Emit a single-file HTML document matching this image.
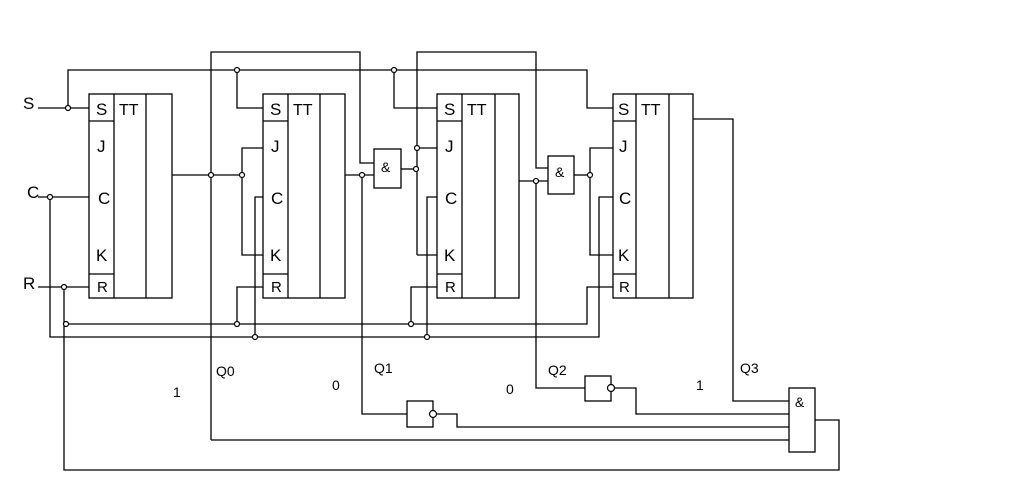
<!DOCTYPE html>
<html><head><style>
html,body{margin:0;padding:0;background:#fff;}
svg{display:block;}
text{font-family:"Liberation Sans",sans-serif;fill:#000;}
</style></head><body>
<svg width="1015" height="493" viewBox="0 0 1015 493" xmlns="http://www.w3.org/2000/svg">
<g stroke="#000" stroke-width="1.3" fill="none">
<!-- FF boxes -->
<rect x="89" y="94" width="83" height="204"/>
<line x1="114" y1="94" x2="114" y2="298"/><line x1="146" y1="94" x2="146" y2="298"/>
<line x1="89" y1="121" x2="114" y2="121"/><line x1="89" y1="274" x2="114" y2="274"/>
<rect x="263" y="94" width="82" height="204"/>
<line x1="288" y1="94" x2="288" y2="298"/><line x1="320" y1="94" x2="320" y2="298"/>
<line x1="263" y1="121" x2="288" y2="121"/><line x1="263" y1="274" x2="288" y2="274"/>
<rect x="437" y="94" width="82" height="204"/>
<line x1="462" y1="94" x2="462" y2="298"/><line x1="495" y1="94" x2="495" y2="298"/>
<line x1="437" y1="121" x2="462" y2="121"/><line x1="437" y1="274" x2="462" y2="274"/>
<rect x="613" y="94" width="80" height="204"/>
<line x1="636" y1="94" x2="636" y2="298"/><line x1="669" y1="94" x2="669" y2="298"/>
<line x1="613" y1="121" x2="636" y2="121"/><line x1="613" y1="274" x2="636" y2="274"/>
<!-- AND gates -->
<rect x="374" y="149" width="27" height="39"/>
<rect x="548" y="156" width="26" height="38"/>
<rect x="407" y="401" width="26" height="26"/>
<rect x="585" y="376" width="26" height="25"/>
<rect x="789" y="388" width="26" height="64"/>
<!-- inputs -->
<line x1="38" y1="108" x2="89" y2="108"/>
<line x1="38" y1="197" x2="89" y2="197"/>
<line x1="38" y1="287" x2="89" y2="287"/>
<polyline points="68,108 68,70 587,70 587,108 613,108"/>
<polyline points="237,70 237,108 263,108"/>
<polyline points="394,70 394,108 437,108"/>
<polyline points="50,197 50,337 599,337 599,197 613,197"/>
<polyline points="255,337 255,197 263,197"/>
<polyline points="427,337 427,197 437,197"/>
<polyline points="64,287 64,470 839,470 839,420 815,420"/>
<polyline points="66,324 587,324 587,287 613,287"/>
<polyline points="237,324 237,287 263,287"/>
<polyline points="411,324 411,287 437,287"/>
<!-- Q0 -->
<line x1="172" y1="175" x2="242" y2="175"/>
<polyline points="211,440 211,52 360,52 360,163 374,163"/>
<polyline points="263,148 242,148 242,255 263,255"/>
<line x1="211" y1="440" x2="789" y2="440"/>
<!-- Q1 -->
<line x1="345" y1="175" x2="374" y2="175"/>
<polyline points="362,175 362,414 407,414"/>
<line x1="401" y1="169" x2="417" y2="169"/>
<polyline points="437,148 417,148 417,52 536,52 536,168 548,168"/>
<line x1="417" y1="148" x2="417" y2="255"/><line x1="417" y1="255" x2="437" y2="255"/>
<polyline points="437,414 457,414 457,427 789,427"/>
<!-- Q2 -->
<line x1="519" y1="181" x2="548" y2="181"/>
<polyline points="536,181 536,388 585,388"/>
<line x1="574" y1="175" x2="590" y2="175"/>
<polyline points="613,148 590,148 590,255 613,255"/>
<polyline points="615,388 636,388 636,414 789,414"/>
<!-- Q3 -->
<polyline points="693,119 733,119 733,401 789,401"/>
</g>
<g stroke="#000" stroke-width="1.2" fill="#fff">
<circle cx="433" cy="414" r="3.5"/>
<circle cx="611" cy="388" r="3.5"/>
<circle cx="68" cy="108" r="2.5"/><circle cx="50" cy="197" r="2.5"/><circle cx="64" cy="287" r="2.5"/>
<circle cx="66" cy="324" r="2.5"/><circle cx="237" cy="70" r="2.5"/><circle cx="394" cy="70" r="2.5"/>
<circle cx="211" cy="175" r="2.5"/><circle cx="242" cy="175" r="2.5"/>
<circle cx="237" cy="324" r="2.5"/><circle cx="411" cy="324" r="2.5"/>
<circle cx="255" cy="337" r="2.5"/><circle cx="427" cy="337" r="2.5"/>
<circle cx="362" cy="175" r="2.5"/><circle cx="417" cy="148" r="2.5"/><circle cx="416" cy="169" r="2.5"/>
<circle cx="536" cy="181" r="2.5"/><circle cx="590" cy="175" r="2.5"/>
</g>
<g font-size="17">
<text x="23" y="109">S</text><text x="27" y="198">C</text><text x="23" y="289">R</text>
<text x="96" y="115">S</text><text x="98" y="204">C</text><text x="97" y="152">J</text><text x="96" y="261">K</text><text x="97" y="292" font-size="15">R</text>
<text x="270" y="115">S</text><text x="271" y="204">C</text><text x="271" y="152">J</text><text x="270" y="261">K</text><text x="271" y="292" font-size="15">R</text>
<text x="444" y="115">S</text><text x="445" y="204">C</text><text x="445" y="152">J</text><text x="444" y="261">K</text><text x="445" y="292" font-size="15">R</text>
<text x="618" y="115">S</text><text x="619" y="204">C</text><text x="619" y="152">J</text><text x="618" y="261">K</text><text x="619" y="292" font-size="15">R</text>
</g>
<g font-size="16">
<text x="119" y="115">TT</text><text x="293" y="115">TT</text><text x="467" y="115">TT</text><text x="641" y="115">TT</text>
</g>
<g font-size="14">
<text x="381" y="172">&amp;</text><text x="555" y="177">&amp;</text><text x="795" y="407">&amp;</text>
<text x="216" y="376">Q0</text><text x="374" y="373">Q1</text><text x="548" y="375">Q2</text><text x="740" y="373">Q3</text>
<text x="173" y="397">1</text><text x="332" y="390">0</text><text x="506" y="394">0</text><text x="696" y="390">1</text>
</g>
</svg>
</body></html>
